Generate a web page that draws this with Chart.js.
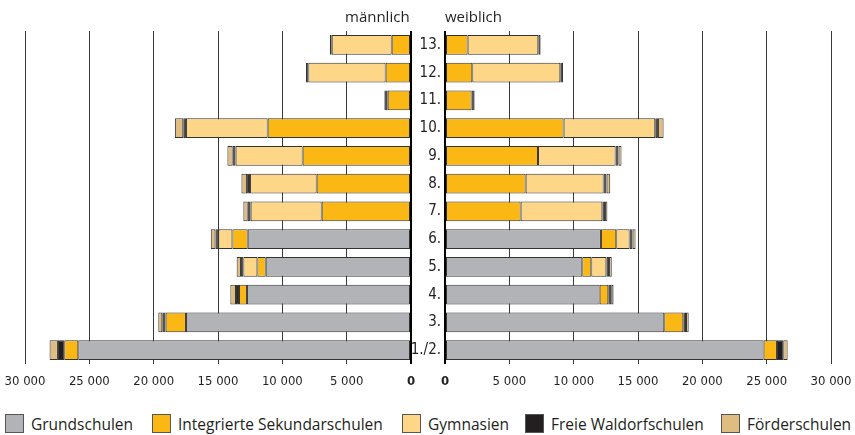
<!DOCTYPE html>
<html>
<head>
<meta charset="utf-8">
<script src="https://cdn.jsdelivr.net/npm/chart.js@4"></script>
<style>
  body { margin: 0; background: #fff; }
  #wrap { position: relative; width: 855px; height: 435px; font-family: "Open Sans", sans-serif; color: #231f20; }
  #left { position: absolute; left: 0; top: 0; }
  #right { position: absolute; left: 412px; top: 0; }
  .title { position: absolute; top: 6px; font-size: 15px; }
  .leg { position: absolute; top: 414px; font-size: 15.5px; line-height: 20px; white-space: nowrap; }
  .leg i { display: inline-block; width: 17px; height: 17px; border: 1px solid #555; vertical-align: top; margin-right: 7px; }
</style>
</head>
<body>
<div id="wrap">
  <canvas id="left" width="430" height="400"></canvas>
  <canvas id="right" width="443" height="400"></canvas>
  <div class="title" style="left:345px">männlich</div>
  <div class="title" style="left:445px">weiblich</div>
  <div id="legend"></div>
</div>
<script>
const grades = ['1./2.', '3.', '4.', '5.', '6.', '7.', '8.', '9.', '10.', '11.', '12.', '13.'];
const seriesNames = ['Grundschulen', 'Integrierte Sekundarschulen', 'Gymnasien', 'Freie Waldorfschulen', 'Förderschulen'];
const seriesColors = ['#b1b3b6', '#fbb814', '#fed688', '#231f20', '#dfbd80'];

// männlich
const grundM = [25860, 17490, 12750, 11290, 12690, 0, 0, 0, 0, 0, 0, 0];
const iscM   = [1090, 1580, 620, 650, 1190, 6940, 7330, 8420, 11140, 1810, 1970, 1500];
const gymM   = [0, 0, 0, 1090, 1090, 5520, 5180, 5210, 6350, 0, 6010, 4660];
const waldM  = [490, 260, 230, 180, 230, 230, 230, 230, 210, 260, 180, 150];
const foerM  = [650, 310, 440, 340, 360, 340, 440, 410, 650, 0, 0, 0];

// weiblich
const grundW = [24760, 17040, 12020, 10670, 12120, 0, 0, 0, 0, 0, 0, 0];
const iscW   = [1040, 1480, 670, 700, 1190, 5880, 6270, 7230, 9220, 2070, 2120, 1760];
const gymW   = [0, 0, 0, 1170, 1040, 6350, 6060, 6030, 7120, 0, 6840, 5490];
const waldW  = [490, 210, 230, 210, 230, 210, 230, 230, 210, 230, 210, 180];
const foerW  = [340, 210, 180, 210, 230, 180, 280, 230, 440, 0, 0, 0];

const xTicks = [0, 5000, 10000, 15000, 20000, 25000, 30000];
const narrow = '"Liberation Sans Narrow", "DejaVu Sans Condensed", sans-serif';

function fmt(v) {
    return String(v).replace(/\B(?=(\d{3})+(?!\d))/g, ' ');
}

function makeDatasets(arrays) {
    return arrays.map((d, i) => ({
        label: seriesNames[i],
        data: d,
        backgroundColor: seriesColors[i],
        borderColor: '#333',
        borderWidth: 1,
        borderSkipped: false,
        barPercentage: 0.72,
        categoryPercentage: 1
    }));
}

function makeOptions(isLeft) {
    return {
        indexAxis: 'y',
        responsive: false,
        animation: false,
        layout: { padding: isLeft ? { left: 25, right: 19, top: 31, bottom: 6 } : { left: 0, right: 24, top: 31, bottom: 6 } },
        plugins: { legend: { display: false }, tooltip: { enabled: false } },
        scales: {
            x: {
                stacked: true,
                reverse: isLeft,
                min: 0,
                max: 30000,
                afterFit: s => { s.height = 30; s.paddingLeft = 0; s.paddingRight = 0; },
                afterBuildTicks: s => { s.ticks = xTicks.map(v => ({ value: v })); },
                border: { display: false },
                grid: {
                    drawTicks: false,
                    color: c => c.tick && c.tick.value === 0 ? '#000' : '#3a3a3a',
                    lineWidth: c => c.tick && c.tick.value === 0 ? 2 : 1
                },
                ticks: {
                    padding: 10,
                    color: '#231f20',
                    font: c => ({ family: narrow, size: 13, weight: c.tick && c.tick.value === 0 ? 'bold' : 'normal' }),
                    callback: v => fmt(v),
                    maxRotation: 0
                }
            },
            y: {
                stacked: true,
                reverse: true,
                display: !isLeft,
                afterFit: s => { if (!isLeft) s.width = 33; },
                border: { display: false },
                grid: { display: false, drawTicks: false },
                ticks: { padding: 4, color: '#231f20', font: { family: narrow, size: 15 } }
            }
        }
    };
}

new Chart(document.getElementById('left'), {
    type: 'bar',
    data: { labels: grades, datasets: makeDatasets([grundM, iscM, gymM, waldM, foerM]) },
    options: makeOptions(true)
});

new Chart(document.getElementById('right'), {
    type: 'bar',
    data: { labels: grades, datasets: makeDatasets([grundW, iscW, gymW, waldW, foerW]) },
    options: makeOptions(false)
});

// legend
const legendX = [5, 152, 402, 525, 721];
const legend = document.getElementById('legend');
seriesNames.forEach((name, i) => {
    const el = document.createElement('div');
    el.className = 'leg';
    el.style.left = legendX[i] + 'px';
    el.innerHTML = '<i style="background:' + seriesColors[i] + '"></i>' + name;
    legend.appendChild(el);
});
</script>
</body>
</html>
